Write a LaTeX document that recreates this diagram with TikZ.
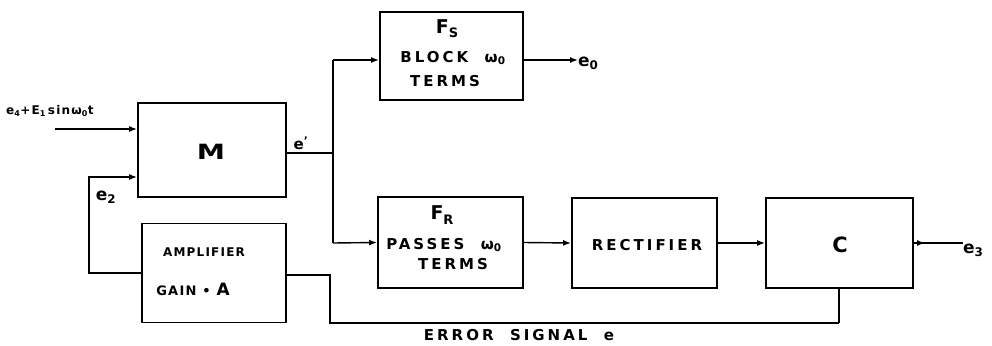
\documentclass[tikz,border=0pt]{standalone}
\usepackage{fontspec}
\setmainfont{DejaVu Sans}
\newfontfamily\lt[LetterSpace=20]{DejaVu Sans}
\newfontfamily\ltn[LetterSpace=10]{DejaVu Sans}
\usetikzlibrary{arrows.meta}
\begin{document}
\begin{tikzpicture}[x=1pt,y=-1pt,
  blk/.style={draw,line width=1.9pt,rectangle,minimum width=#1,inner sep=0pt},
  wire/.style={line width=1.4pt},
  arr/.style={wire,-{Latex[length=8pt,width=6pt]}},
  lbl/.style={font=\lt\bfseries\fontsize{15}{17}\selectfont,inner sep=0pt},
  big/.style={font=\bfseries\fontsize{21}{23}\selectfont,inner sep=0pt},
  small/.style={font=\ltn\bfseries\fontsize{12}{14}\selectfont,inner sep=0pt},
  elbl/.style={font=\bfseries\fontsize{17}{19}\selectfont,inner sep=0pt}]
\useasboundingbox (0,0) rectangle (992,345);
% boxes
\node[blk=148pt,minimum height=94pt] (M) at (212,150) {};
\node[big] at (211,152) {\scalebox{1.35}[1]{M}};
\node[blk=144pt,minimum height=99pt] (A) at (214,273) {};
\node[font=\ltn\bfseries\fontsize{12}{14}\selectfont,inner sep=0pt] at (204,252) {AMPLIFIER};
\node[font=\ltn\bfseries\fontsize{13}{15}\selectfont,inner sep=0pt] at (193,289) {GAIN • \fontsize{17}{19}\selectfont A};
\node[blk=143pt,minimum height=88pt] (FS) at (451.5,56) {};
\node[big,font=\bfseries\fontsize{19}{21}\selectfont] at (447,29) {F\raisebox{-0.4ex}{\fontsize{13}{15}\selectfont S}};
\node[lbl] at (453,58) {BLOCK \ ω\textsubscript{0}};
\node[lbl] at (445,81) {TERMS};
\node[blk=145pt,minimum height=91pt] (FR) at (450.5,242.5) {};
\node[big,font=\bfseries\fontsize{19}{21}\selectfont] at (442,215) {F\raisebox{-0.4ex}{\fontsize{13}{15}\selectfont R}};
\node[lbl] at (444,245) {PASSES \ ω\textsubscript{0}};
\node[lbl] at (453,264) {TERMS};
\node[blk=145pt,minimum height=90pt] (R) at (644.5,243) {};
\node[lbl] at (647,245) {RECTIFIER};
\node[blk=147pt,minimum height=90pt] (C) at (839.5,243) {};
\node[big] at (840,245) {C};
% coordinates
\coordinate (in1) at (55,129);
\coordinate (j) at (333,153);
\coordinate (jt) at (333,60);
\coordinate (jb) at (333,243);
\coordinate (fb1) at (89,177);
\coordinate (er1) at (330,275);
\coordinate (er2) at (330,323);
\coordinate (er3) at (839,323);
\coordinate (ct) at (925,243);
% labels
\node[small,anchor=west] (lin) at (6,111) {e\textsubscript{4}+E\textsubscript{1}\,sinω\textsubscript{0}t};
\node[elbl,font=\bfseries\fontsize{15}{17}\selectfont] (ep) at (301,143) {e\textsuperscript{'}};
\node[elbl] (e2) at (106,197) {e\textsubscript{2}};
\node[elbl,anchor=west] (e0) at (578,63) {e\textsubscript{0}};
\node[elbl,anchor=west] (e3) at (963,250) {e\textsubscript{3}};
\node[lbl,anchor=north] (es) at (519,329) {ERROR \ SIGNAL \ e};
% connectors
\draw[arr] (in1) -- (in1 -| M.west);
\draw[arr] (A.west) -| (fb1) -- (M.west |- fb1);
\draw[wire] (M.east |- j) -- (j);
\draw[wire] (jt) -- (jb);
\draw[arr] (jt) -- (jt -| FS.west);
\draw[arr] (jb) -- (FR.west);
\draw[arr] (FS.east |- jt) -- (e0.west |- jt);
\draw[arr] (FR.east) -- (R.west);
\draw[arr] (R.east) -- (C.west);
\draw[wire] (C.east) -- (e3.west |- C.east);
\draw[arr] (C.east) -- (ct);
\draw[wire] (er3) -- (er3 |- C.south);
\draw[wire] (A.east |- er1) -- (er1) -- (er2) -- (er3);
\end{tikzpicture}
\end{document}
